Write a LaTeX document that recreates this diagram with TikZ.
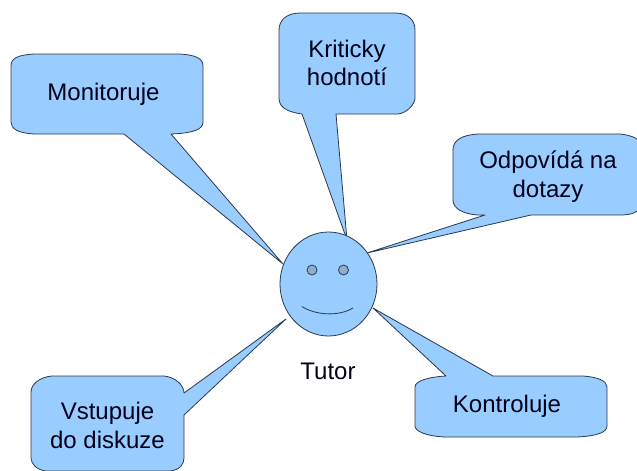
\documentclass[tikz,border=0pt]{standalone}
\usepackage{fontspec}
\setmainfont{Liberation Sans}
\usetikzlibrary{shapes.geometric}
\definecolor{bubble}{HTML}{99CCFF}
\definecolor{edge}{HTML}{2B3A4E}
\definecolor{eyeblue}{HTML}{8FADCF}
\begin{document}
\begin{tikzpicture}[x=1pt,y=-1pt]

% definitions
\tikzstyle{callout} = [draw=edge, fill=bubble, line width=0.8pt, line join=round]
\tikzstyle{label} = [text=black!90!blue, align=center, inner sep=0pt, font=\fontsize{24}{28.5}\selectfont]
\tikzstyle{face} = [ellipse, draw=edge, fill=bubble, line width=0.8pt, minimum width=97pt, minimum height=104pt, inner sep=0pt]
\tikzstyle{eye} = [circle, draw=edge, fill=eyeblue, line width=0.8pt, minimum size=10pt, inner sep=0pt]

\useasboundingbox (0,0) rectangle (637,471);

% tips of the callouts
\coordinate (tipmon) at (283,264);
\coordinate (tipkri) at (347,240);
\coordinate (tipodp) at (367,253);
\coordinate (tipvst) at (286,319);
\coordinate (tipkon) at (373,308);

% the callouts
\draw [callout] (34,54) -- (180,54) .. controls (195,55) and (203,58) .. (203,66) -- (203,122) .. controls (203,129) and (195,133) .. (171,134) -- (tipmon) -- (124,134) -- (34,134) .. controls (18,133) and (11,129) .. (11,122) -- (11,66) .. controls (11,58) and (18,55) .. (34,54) -- cycle;

\draw [callout] (300,13) -- (395,13) .. controls (408,13) and (415,20) .. (415,30) -- (415,98) .. controls (415,104) and (407,113) .. (398,114) -- (336,114) -- (tipkri) -- (302,114) .. controls (288,112) and (279,108) .. (279,98) -- (279,30) .. controls (279,20) and (287,13) .. (300,13) -- cycle;

\draw [callout] (478,134) -- (620,134) .. controls (630,135) and (637,138) .. (640,142) -- (640,208) .. controls (637,213) and (630,215) .. (620,215) -- (531,215) -- (tipodp) -- (485,215) -- (478,215) .. controls (462,214) and (453,208) .. (453,200) -- (453,150) .. controls (453,140) and (462,135) .. (478,134) -- cycle;

\draw [callout] (52,376) -- (164,376) .. controls (175,377) and (184,385) .. (184,393) -- (tipvst) -- (184,415) -- (184,458) .. controls (184,464) and (180,470) .. (170,471) -- (46,471) .. controls (37,470) and (31,464) .. (31,458) -- (31,392) .. controls (31,384) and (40,377) .. (52,376) -- cycle;

\draw [callout] (493,376) -- (583,376) .. controls (598,377) and (607,381) .. (607,387) -- (607,426) .. controls (607,432) and (598,436) .. (577,437) -- (445,437) .. controls (425,436) and (415,431) .. (415,426) -- (415,387) .. controls (415,381) and (428,377) .. (446,376) -- (tipkon) -- cycle;

% the face
\node (head) [face] at (328.5,284) {};
\node (eyel) [eye] at (312,270) {};
\node (eyer) [eye] at (343.5,270) {};
\draw [draw=edge, line width=0.8pt] (302,306.5) .. controls (315,315) and (338,317) .. (353,308);

% the texts
\node (mon) [label] at (103.5,94.5) {Monitoruje};
\node (kri) [label] at (347,63) {Kriticky\\hodnotí};
\node (odp) [label] at (548,176.5) {Odpovídá na\\dotazy};
\node (vst) [label] at (107.5,425.5) {Vstupuje\\do diskuze};
\node (kon) [label] at (507,406) {Kontroluje};
\node (tut) [label] at (328,371) {Tutor};

\end{tikzpicture}
\end{document}
